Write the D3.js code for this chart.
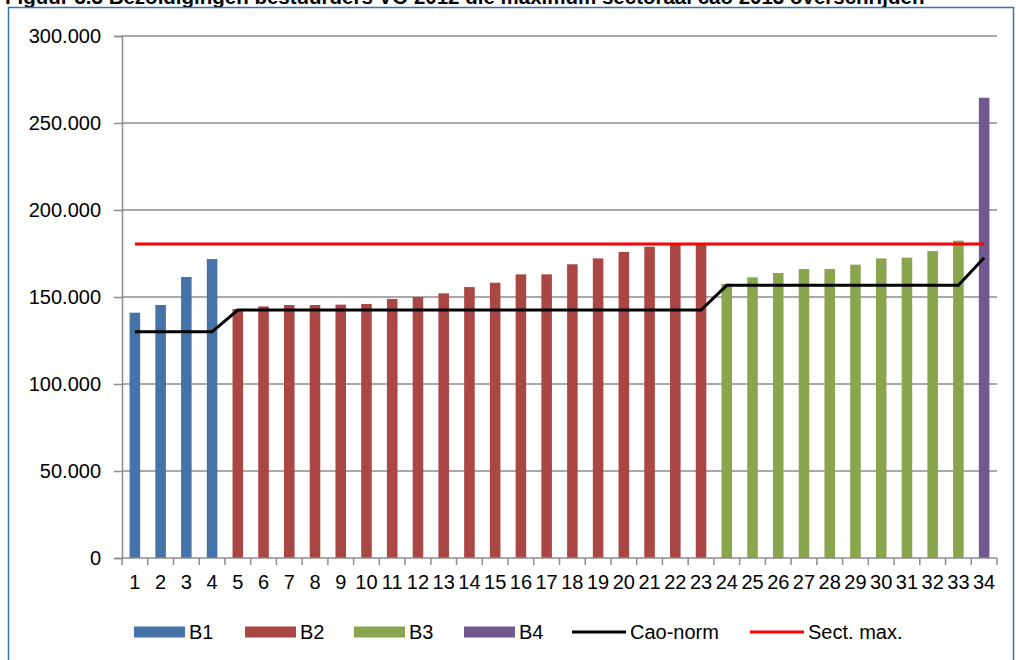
<!DOCTYPE html>
<html>
<head>
<meta charset="utf-8">
<script src="https://cdn.jsdelivr.net/npm/d3@7"></script>
<style>
  body { margin: 0; background: #fff; }
  svg { display: block; font-family: "Liberation Sans", Arial, sans-serif; }
</style>
</head>
<body>
<div id="chart"></div>
<script>
// data
const categories = d3.range(1, 35).map(String);
const groups = ["B1", "B1", "B1", "B1",
  "B2", "B2", "B2", "B2", "B2", "B2", "B2", "B2", "B2", "B2", "B2", "B2", "B2", "B2", "B2", "B2", "B2", "B2", "B2",
  "B3", "B3", "B3", "B3", "B3", "B3", "B3", "B3", "B3", "B3",
  "B4"];
const salaries = [141000, 145400, 161500, 171800,
  143100, 144600, 145400, 145400, 145600, 146000, 148900, 150000, 152100, 155700, 158200, 163000, 163000, 168800, 172200, 175900, 178900, 180500, 180800,
  157500, 161300, 163800, 166100, 166100, 168600, 172200, 172600, 176400, 182400,
  264500];
const caoNorm = [130000, 130000, 130000, 130000,
  142500, 142500, 142500, 142500, 142500, 142500, 142500, 142500, 142500, 142500, 142500, 142500, 142500, 142500, 142500, 142500, 142500, 142500, 142500,
  156700, 156700, 156700, 156700, 156700, 156700, 156700, 156700, 156700, 156700,
  172600];
const sectMax = 180500;
const yTicks = [0, 50000, 100000, 150000, 200000, 250000, 300000];
const seriesNames = ["B1", "B2", "B3", "B4"];
const seriesColors = ["#4572a7", "#aa4643", "#89a54e", "#71588f"];

const width = 1016;
const height = 660;

const svg = d3.select("#chart")
  .append("svg")
  .attr("width", width)
  .attr("height", height);

// caption, cut off at the top of the image
svg.append("text")
  .attr("x", 5)
  .attr("y", 4)
  .style("font-size", "20.5px")
  .style("font-weight", "bold")
  .style("fill", "#000")
  .text("Figuur 3.3 Bezoldigingen bestuurders VO 2012 die maximum sectoraal cao 2013 overschrijden");

// blue frame
svg.append("rect")
  .attr("x", 8.5)
  .attr("y", 7.5)
  .attr("width", 1005)
  .attr("height", 700)
  .style("fill", "none")
  .style("stroke", "#2e75b6")
  .style("stroke-width", 1.5);

const x = d3.scaleBand()
  .domain(categories)
  .range([122, 997])
  .paddingInner(0.59)
  .paddingOuter(0.295);

const y = d3.scaleLinear()
  .domain([0, 300000])
  .range([558, 36]);

const color = d3.scaleOrdinal()
  .domain(seriesNames)
  .range(seriesColors);

const nl = d3.formatLocale({ decimal: ",", thousands: ".", grouping: [3], currency: ["€", ""] });
const fmt = nl.format(",");

// gridlines
svg.append("g")
  .selectAll("line")
  .data(yTicks.slice(1))
  .enter()
  .append("line")
  .attr("x1", 122)
  .attr("x2", 997)
  .attr("y1", d => y(d))
  .attr("y2", d => y(d))
  .style("stroke", "#8c8c8c")
  .style("stroke-width", 1.5);

// y axis
const yAxis = svg.append("g")
  .attr("transform", "translate(122,0)")
  .call(d3.axisLeft(y).tickValues(yTicks).tickFormat(fmt).tickSize(8).tickPadding(13));
yAxis.select(".domain").style("stroke", "#8c8c8c").style("stroke-width", 1.5);
yAxis.selectAll(".tick line").style("stroke", "#8c8c8c").style("stroke-width", 1.5);
yAxis.selectAll("text")
  .style("font-size", "20px")
  .style("fill", "#000")
  .style("font-family", "'Liberation Sans', Arial, sans-serif");

// bars
svg.append("g")
  .selectAll("rect")
  .data(categories)
  .enter()
  .append("rect")
  .attr("x", d => x(d))
  .attr("width", x.bandwidth())
  .attr("y", (d, i) => y(salaries[i]))
  .attr("height", (d, i) => y(0) - y(salaries[i]))
  .style("fill", (d, i) => color(groups[i]));

// x axis: baseline, ticks between categories, labels
const step = x.step();
const xAxis = svg.append("g");
xAxis.append("line")
  .attr("x1", 122)
  .attr("x2", 997)
  .attr("y1", y(0))
  .attr("y2", y(0))
  .style("stroke", "#8c8c8c")
  .style("stroke-width", 1.5);
xAxis.selectAll(".xtick")
  .data(d3.range(categories.length + 1))
  .enter()
  .append("line")
  .attr("class", "xtick")
  .attr("x1", i => 122 + i * step)
  .attr("x2", i => 122 + i * step)
  .attr("y1", y(0))
  .attr("y2", y(0) + 7)
  .style("stroke", "#8c8c8c")
  .style("stroke-width", 1.5);
xAxis.selectAll(".xlabel")
  .data(categories)
  .enter()
  .append("text")
  .attr("class", "xlabel")
  .attr("x", d => x(d) + x.bandwidth() / 2)
  .attr("y", 589)
  .attr("text-anchor", "middle")
  .style("font-size", "20px")
  .style("fill", "#000")
  .text(d => d);

const cx = d => x(d) + x.bandwidth() / 2;

// sector maximum
svg.append("line")
  .attr("x1", cx(categories[0]))
  .attr("x2", cx(categories[categories.length - 1]))
  .attr("y1", y(sectMax))
  .attr("y2", y(sectMax))
  .style("stroke", "#ff0000")
  .style("stroke-width", 3);

// cao norm
const line = d3.line()
  .x((d, i) => cx(categories[i]))
  .y(d => y(d));

svg.append("path")
  .datum(caoNorm)
  .attr("d", line)
  .style("fill", "none")
  .style("stroke", "#000")
  .style("stroke-width", 3);

// legend
const legend = svg.append("g").attr("transform", "translate(0,632)");
const boxX = [134, 245, 354, 464];
seriesNames.forEach((name, i) => {
  legend.append("rect")
    .attr("x", boxX[i])
    .attr("y", -5.5)
    .attr("width", 51)
    .attr("height", 11)
    .style("fill", color(name));
  legend.append("text")
    .attr("x", boxX[i] + 55)
    .attr("y", 7)
    .style("font-size", "20px")
    .text(name);
});
const lineItems = [
  { name: "Cao-norm", color: "#000", x: 572 },
  { name: "Sect. max.", color: "#ff0000", x: 750 }
];
lineItems.forEach(item => {
  legend.append("line")
    .attr("x1", item.x)
    .attr("x2", item.x + 54)
    .attr("y1", 0)
    .attr("y2", 0)
    .style("stroke", item.color)
    .style("stroke-width", 3);
  legend.append("text")
    .attr("x", item.x + 58)
    .attr("y", 7)
    .style("font-size", "20px")
    .text(item.name);
});
</script>
</body>
</html>
